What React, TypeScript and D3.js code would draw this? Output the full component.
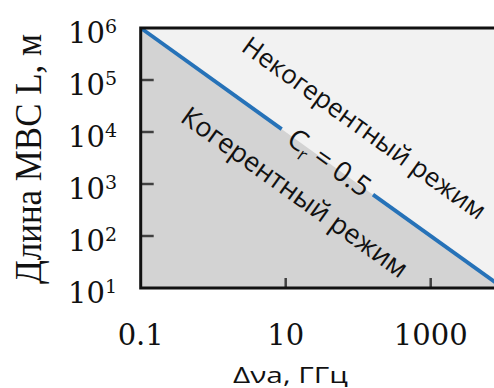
import React from 'react';
import * as d3 from 'd3';

// Axis ticks
const xTickValues = [0.1, 10, 1000];
const xTickLabels = ['0.1', '10', '1000'];
const yTickExponents = [1, 2, 3, 4, 5, 6];

// Boundary C_r = 0.5 between the two regimes (L = 1e5 / Δν)
const boundaryNu = [0.1, 10000];
const boundaryL = [1e6, 10];

// Where the boundary line is interrupted by its label, and label anchors (GHz)
const labelGapNu = [8.8, 160];
const crLabelNu = 39.5;
const incoherentLabelNu = 49;
const coherentLabelNu = 30;

const W = 494;
const H = 388;

const serif = '"DejaVu Serif", serif';
const sans = '"Open Sans", "Noto Sans", sans-serif';

export default function App() {
  const left = 140.7;
  const top = 28;
  const bottom = 288;
  const x = d3.scaleLog().domain([0.1, 1e4]).range([left, left + 5 * 72.5]);
  const y = d3.scaleLog().domain([10, 1e6]).range([bottom, top]);
  const right = x.range()[1];

  // boundary in pixel space (straight line on log-log axes)
  const p0: [number, number] = [x(boundaryNu[0]), y(boundaryL[0])];
  const p1: [number, number] = [x(boundaryNu[1]), y(boundaryL[1])];
  const along = d3.scaleLinear().domain([p0[0], p1[0]]).range([p0[1], p1[1]]);
  const onLine = (nu: number): [number, number] => [x(nu), along(x(nu))];
  const angle = (Math.atan2(p1[1] - p0[1], p1[0] - p0[0]) * 180) / Math.PI;

  const line = d3.line();
  const seg1 = line([p0, onLine(labelGapNu[0])]) as string;
  const seg2 = line([onLine(labelGapNu[1]), p1]) as string;
  const lower = line([p0, p1, [p1[0], y(10)], [p0[0], y(10)]]) + 'Z';

  const place = (nu: number) => {
    const [px, py] = onLine(nu);
    return `translate(${px},${py}) rotate(${angle})`;
  };

  return (
    <svg width={W} height={H} style={{ position: 'absolute', left: 0, top: 0, background: '#fff' }}>
      <defs>
        <clipPath id="plot">
          <rect x={left} y={top} width={right - left} height={bottom - top} />
        </clipPath>
      </defs>
      <g clipPath="url(#plot)">
        <rect x={left} y={top} width={right - left} height={bottom - top} fill="#f2f2f2" />
        <path d={lower} fill="#d3d3d3" />
        <path d={seg1} stroke="#2672b8" strokeWidth={3.8} fill="none" />
        <path d={seg2} stroke="#2672b8" strokeWidth={3.8} fill="none" />
      </g>

      {/* ticks */}
      {yTickExponents.slice(1, -1).map((e) => (
        <line key={e} x1={left} x2={left + 13} y1={y(10 ** e)} y2={y(10 ** e)} stroke="#404040" strokeWidth={2.5} />
      ))}
      {xTickValues.slice(1).map((v) => (
        <line key={v} x1={x(v)} x2={x(v)} y1={bottom} y2={bottom - 10} stroke="#404040" strokeWidth={2.5} />
      ))}

      {/* frame */}
      <rect x={left} y={top} width={right - left + 10} height={bottom - top} fill="none" stroke="#111" strokeWidth={3} />

      {/* annotations */}
      <g transform={place(incoherentLabelNu)}>
        <text y={-40} textAnchor="middle" fontFamily={sans} fontSize={26} fill="#111">
          Некогерентный режим
        </text>
      </g>
      <g transform={place(coherentLabelNu)}>
        <text y={53} textAnchor="middle" fontFamily={sans} fontSize={27} fill="#111">
          Когерентный режим
        </text>
      </g>
      <g transform={place(crLabelNu)}>
        <text y={9} textAnchor="middle" fontFamily={sans} fontSize={28} fill="#111">
          C<tspan fontSize={18} dy={6}>r</tspan>
          <tspan dy={-6}> = 0.5</tspan>
        </text>
      </g>

      {/* y tick labels */}
      {yTickExponents.map((e) => (
        <text key={e} x={117} y={y(10 ** e) + 14.5} textAnchor="end" fontFamily={serif} fontSize={29} fill="#111">
          10<tspan fontSize={19} dy={-10}>{e}</tspan>
        </text>
      ))}

      {/* x tick labels */}
      {xTickValues.map((v, i) => (
        <text key={v} x={x(v)} y={345} textAnchor="middle" fontFamily={serif} fontSize={29} fill="#111">
          {xTickLabels[i]}
        </text>
      ))}

      {/* axis titles */}
      <text
        transform="translate(41,159) rotate(-90)"
        textAnchor="middle"
        fontFamily={'"Liberation Serif", serif'}
        fontSize={37}
        textLength={250}
        lengthAdjust="spacingAndGlyphs"
        fill="#111"
      >
        Длина МВС L, м
      </text>
      <text
        x={290.5}
        y={383}
        textAnchor="middle"
        fontFamily={sans}
        fontSize={22}
        textLength={115}
        lengthAdjust="spacingAndGlyphs"
        fill="#111"
      >
        Δνa, ГГц
      </text>
    </svg>
  );
}
